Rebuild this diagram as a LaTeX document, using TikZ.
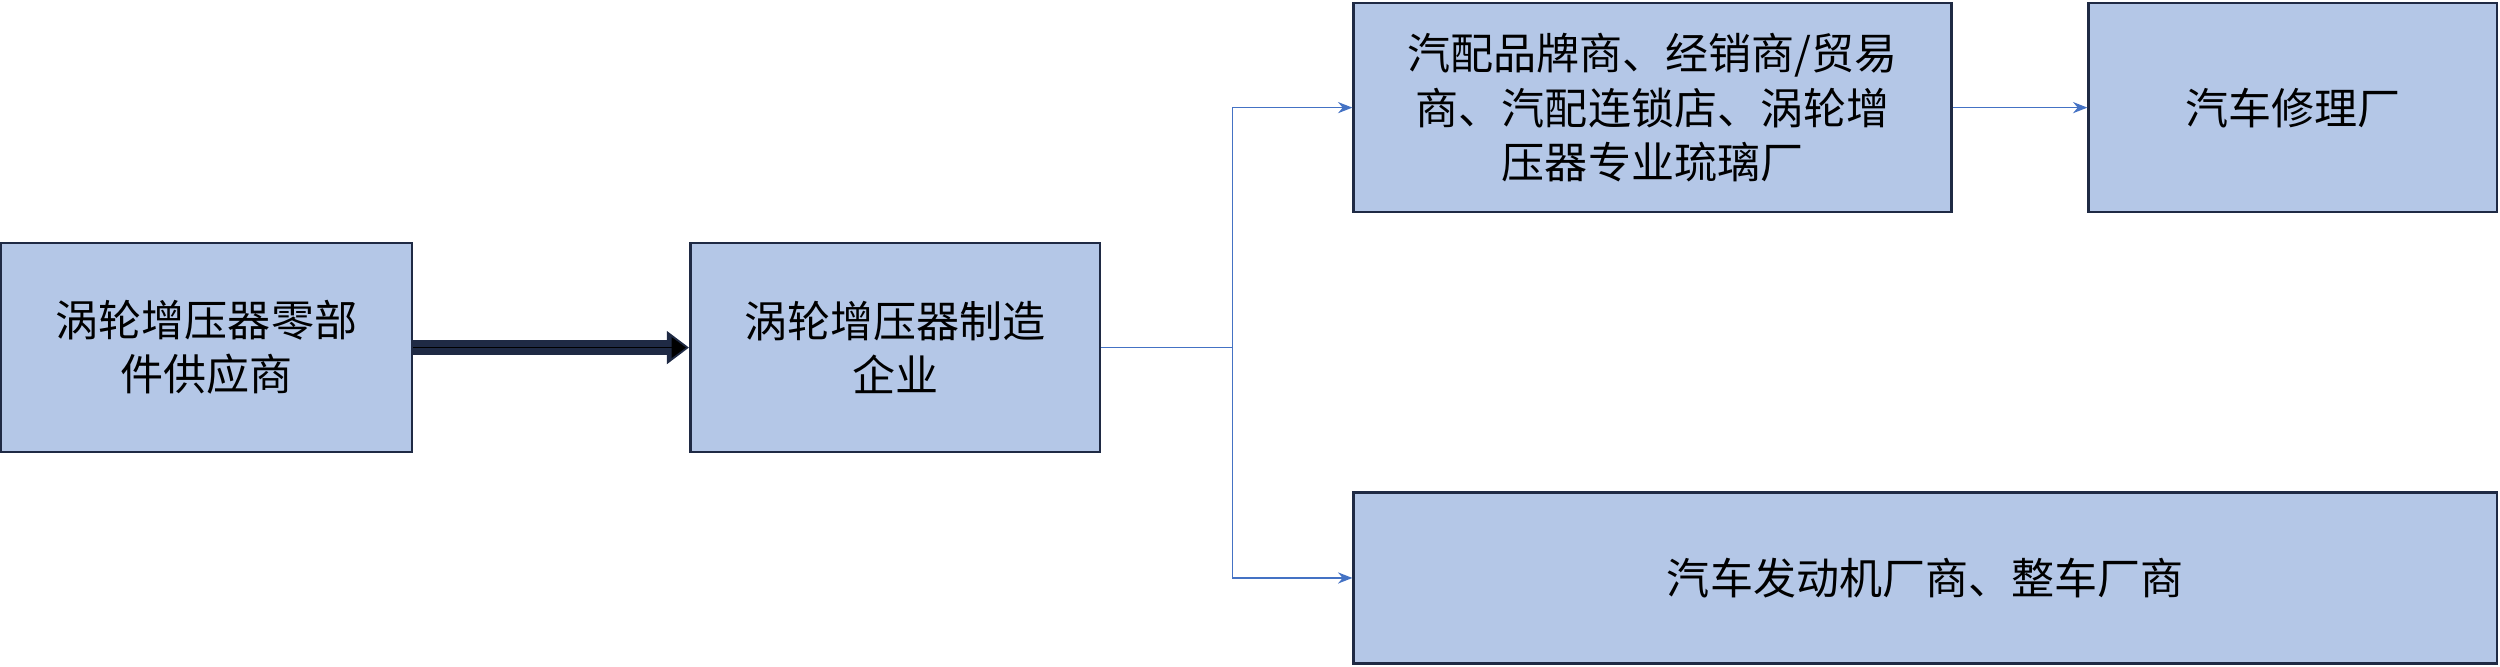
\documentclass[tikz,border=0pt]{standalone}
\usepackage{fontspec}
\setmainfont{Noto Sans CJK SC}
\usetikzlibrary{arrows.meta}
\definecolor{boxfill}{HTML}{B4C7E7}
\definecolor{boxline}{HTML}{1F2A44}
\definecolor{arr}{HTML}{4472C4}
\definecolor{thick}{HTML}{2F5597}
\begin{document}
\begin{tikzpicture}[x=1pt,y=-1pt,
  box/.style={draw=boxline,fill=boxfill,line width=1.6pt,inner sep=0pt,align=center,font=\fontsize{27}{34}\selectfont},
  thin/.style={draw=arr,line width=0.9pt,-{Stealth[length=9pt,width=7pt]}}]
\useasboundingbox (0,0) rectangle (1568,418);
\node[box,minimum width=258pt,minimum height=131pt] (a) at (129.5,218) {涡轮增压器零部\\件供应商};
\node[box,minimum width=257pt,minimum height=131pt] (b) at (561.5,218) {涡轮增压器制造\\企业};
\node[box,minimum width=375pt,minimum height=131pt] (c) at (1036.5,67.5) {汽配品牌商、经销商/贸易\\商、汽配连锁店、涡轮增\\压器专业琉璃厂};
\node[box,minimum width=256pt,minimum height=131pt] (d) at (1438,67.5) {汽车修理厂};
\node[box,minimum width=717pt,minimum height=107pt] (e) at (1207.5,362.5) {汽车发动机厂商、整车厂商};
\coordinate (j) at (773,218);
\draw[line width=9pt,boxline,-{Triangle[length=14pt,width=20pt]}] (a.east) -- (b.west);
\draw[line width=5.5pt,thick,shorten >=2pt,-{Triangle[length=9pt,width=13pt]}] (a.east) -- (b.west);
\draw[draw=arr,line width=0.9pt] (b.east) -- (j);
\draw[thin] (j) |- (c.west);
\draw[thin] (j) |- (e.west);
\draw[thin] (c.east) -- (d.west);
\end{tikzpicture}
\end{document}
